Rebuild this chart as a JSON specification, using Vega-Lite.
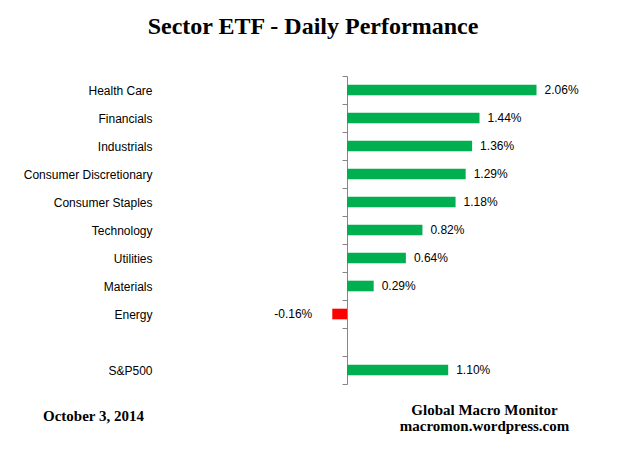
{
  "$schema": "https://vega.github.io/schema/vega-lite/v6.json",
  "width": 414,
  "height": 308,
  "autosize": {"type": "none"},
  "padding": {"left": 163, "top": 76, "right": 48, "bottom": 71},
  "background": "white",
  "config": {
    "view": {"stroke": null},
    "locale": {"number": {"decimal": ".", "thousands": ",", "grouping": [3], "currency": ["$", ""], "minus": "-"}}
  },
  "title": {
    "text": "Sector ETF - Daily Performance",
    "font": "Liberation Serif",
    "fontSize": 24,
    "fontWeight": "bold",
    "color": "black",
    "anchor": "middle",
    "frame": "group",
    "dx": -57,
    "baseline": "alphabetic",
    "offset": 12
  },
  "data": {
    "values": [
      {"cat": "Health Care", "value": 0.0206},
      {"cat": "Financials", "value": 0.0144},
      {"cat": "Industrials", "value": 0.0136},
      {"cat": "Consumer Discretionary", "value": 0.0129},
      {"cat": "Consumer Staples", "value": 0.0118},
      {"cat": "Technology", "value": 0.0082},
      {"cat": "Utilities", "value": 0.0064},
      {"cat": "Materials", "value": 0.0029},
      {"cat": "Energy", "value": -0.0016},
      {"cat": "S&P500", "value": 0.011}
    ]
  },
  "encoding": {
    "y": {
      "field": "cat",
      "type": "nominal",
      "sort": null,
      "scale": {
        "domain": ["Health Care", "Financials", "Industrials", "Consumer Discretionary", "Consumer Staples", "Technology", "Utilities", "Materials", "Energy", " ", "S&P500"],
        "paddingInner": 0,
        "paddingOuter": 0
      },
      "axis": {
        "title": "October 3, 2014",
        "titleFont": "Liberation Serif",
        "titleFontSize": 15,
        "titleFontWeight": "bold",
        "titleColor": "black",
        "titleAngle": 0,
        "titleAlign": "center",
        "titleBaseline": "alphabetic",
        "titleX": -254,
        "titleY": 344.7,
        "offset": -184,
        "tickBand": "extent",
        "tickSize": 5,
        "tickColor": "#868686",
        "domainColor": "#868686",
        "labelPadding": 190,
        "labelFont": "Liberation Sans",
        "labelFontSize": 12,
        "labelColor": "black",
        "grid": false
      }
    }
  },
  "layer": [
    {
      "mark": {"type": "bar", "height": {"band": 0.38}},
      "encoding": {
        "x": {
          "field": "value",
          "type": "quantitative",
          "scale": {"domain": [-0.02, 0.025], "nice": false, "zero": false},
          "axis": {
            "title": ["Global Macro Monitor", "macromon.wordpress.com"],
            "titleFont": "Liberation Serif",
            "titleFontSize": 15,
            "titleFontWeight": "bold",
            "titleColor": "black",
            "titleAlign": "center",
            "titleBaseline": "alphabetic",
            "titleLineHeight": 16,
            "titleX": 321,
            "titleY": 30.3,
            "labels": false,
            "ticks": false,
            "domain": false,
            "grid": false
          }
        },
        "color": {
          "condition": {"test": "datum.value < 0", "value": "#FF0000"},
          "value": "#00B050"
        }
      }
    },
    {
      "transform": [{"filter": "datum.value >= 0"}],
      "mark": {"type": "text", "align": "left", "baseline": "middle", "dx": 8, "font": "Liberation Sans", "fontSize": 12, "color": "black"},
      "encoding": {
        "x": {"field": "value", "type": "quantitative"},
        "text": {"field": "value", "type": "quantitative", "format": ".2%"}
      }
    },
    {
      "transform": [{"filter": "datum.value < 0"}],
      "mark": {"type": "text", "align": "right", "baseline": "middle", "dx": -20, "font": "Liberation Sans", "fontSize": 12, "color": "black"},
      "encoding": {
        "x": {"field": "value", "type": "quantitative"},
        "text": {"field": "value", "type": "quantitative", "format": ".2%"}
      }
    }
  ]
}
